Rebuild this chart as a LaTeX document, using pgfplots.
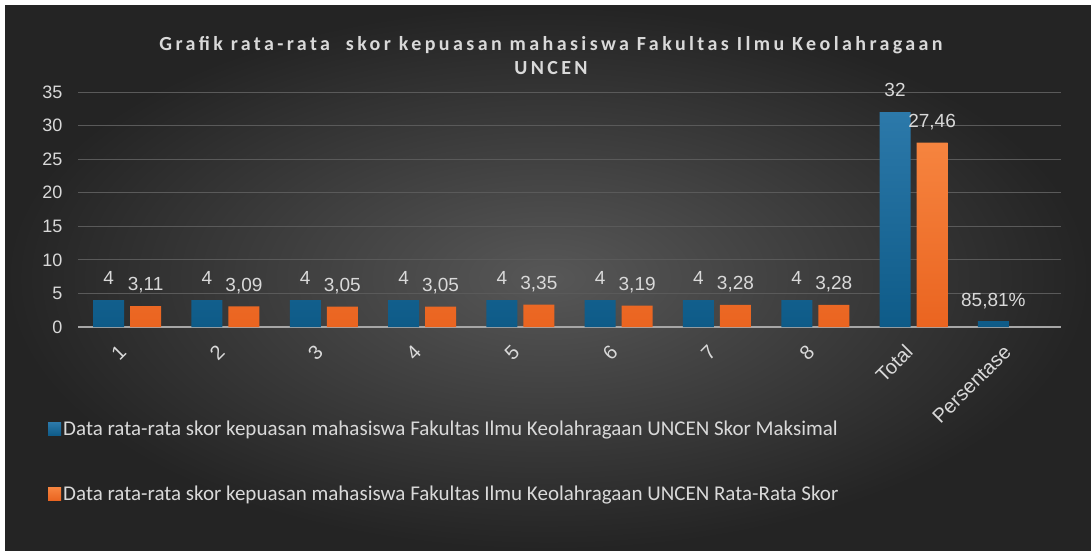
\documentclass[border=0pt]{standalone}
\usepackage{pgfplots}
\pgfplotsset{compat=1.18}
\usepackage{fontspec}
\setmainfont{Liberation Sans}
\newfontfamily\calib{Carlito}
\newfontfamily\titlefont[LetterSpace=17]{Carlito}
\definecolor{bgin}{HTML}{575757}
\definecolor{bgout}{HTML}{242424}
\definecolor{txt}{HTML}{D9D9D9}
\definecolor{gridc}{HTML}{5A5A5A}
\definecolor{axl}{HTML}{A6A6A6}
\definecolor{btop}{HTML}{2C79AA}
\definecolor{bbot}{HTML}{0E5B88}
\definecolor{bmid}{HTML}{1A6C9C}
\definecolor{otop}{HTML}{F6843F}
\definecolor{obot}{HTML}{EA6420}
\definecolor{omid}{HTML}{F07430}
\begin{document}
\begin{tikzpicture}[x=1pt,y=1pt]
\fill[white] (0,0) rectangle (1091,550);
\shade[inner color=bgin, outer color=bgout] (5,0) rectangle (1091,544);
\node[text=txt, font=\titlefont\bfseries\fontsize{20}{22}\selectfont] at (551,505) {Grafik rata-rata\ \ skor kepuasan mahasiswa Fakultas Ilmu Keolahragaan};
\node[text=txt, font=\titlefont\bfseries\fontsize{20}{22}\selectfont] at (551,482) {UNCEN};
\begin{axis}[
  at={(78pt,223pt)}, anchor=south west,
  scale only axis, width=983pt, height=235pt,
  xmin=-0.5, xmax=9.5, ymin=0, ymax=35,
  ybar=6pt, bar width=31pt,
  xtick={0,...,9},
  xticklabels={1,2,3,4,5,6,7,8,Total,Persentase},
  ytick={0,5,...,35},
  yticklabels={0,5,10,15,20,25,30,35},
  major tick length=0pt,
  axis lines*=left,
  axis line style={-},
  y axis line style={draw=none},
  x axis line style={draw=axl, line width=1.5pt},
  ymajorgrids, grid style={draw=gridc, line width=1pt},
  yticklabel style={font=\fontsize{18}{20}\selectfont, text=txt, xshift=-12pt},
  xticklabel style={font=\fontsize{20}{22}\selectfont, text=txt, xshift=-2pt, yshift=-19pt, rotate=45, anchor=east},
  nodes near coords, point meta=explicit symbolic,
  every node near coord/.append style={font=\fontsize{19}{21}\selectfont, text=txt, text depth=0pt, yshift=11.7pt},
  legend style={at={(-0.0305,-0.39)}, anchor=north west, draw=none, fill=none, text=txt,
    font=\calib\fontsize{21}{23}\selectfont, row sep=45pt, inner sep=0pt},
  legend cell align=left,
]
\addplot[draw=none, top color=btop, bottom color=bbot,
  legend image code/.code={\fill[bmid] (0pt,-6.5pt) rectangle (13pt,6.5pt);}] coordinates {
  (0,4) [4] (1,4) [4] (2,4) [4] (3,4) [4] (4,4) [4] (5,4) [4] (6,4) [4] (7,4) [4]
  (8,32) [32] (9,0.8581) [85,81\%]
};
\addplot[draw=none, top color=otop, bottom color=obot,
  legend image code/.code={\fill[omid] (0pt,-6.5pt) rectangle (13pt,6.5pt);}] coordinates {
  (0,3.11) [3,11] (1,3.09) [3,09] (2,3.05) [3,05] (3,3.05) [3,05] (4,3.35) [3,35]
  (5,3.19) [3,19] (6,3.28) [3,28] (7,3.28) [3,28] (8,27.46) [27,46]
};
\legend{Data rata-rata skor kepuasan mahasiswa Fakultas Ilmu Keolahragaan UNCEN Skor Maksimal,
Data rata-rata skor kepuasan mahasiswa Fakultas Ilmu Keolahragaan UNCEN Rata-Rata Skor}
\end{axis}
\end{tikzpicture}
\end{document}
